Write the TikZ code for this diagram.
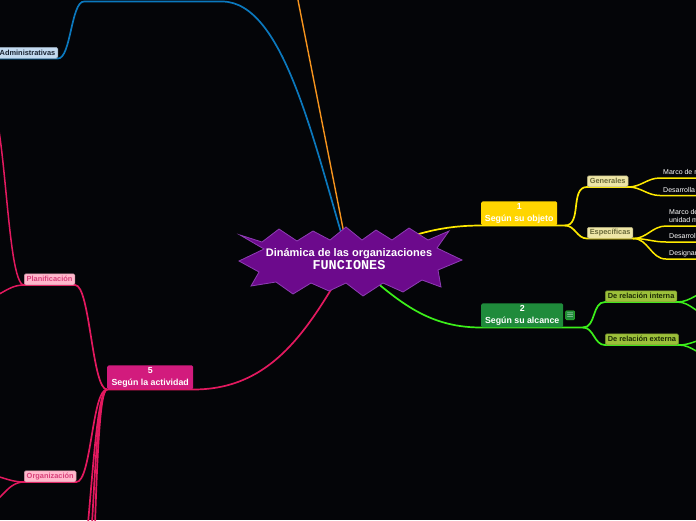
\documentclass[tikz,border=0pt]{standalone}
\usepackage{fontspec}
\setmainfont{Liberation Sans}
\setmonofont{Liberation Mono}
\usetikzlibrary{positioning}
\pgfdeclarelayer{back}
\pgfdeclarelayer{links}
\pgfsetlayers{back,links,main}
\definecolor{bgdark}{HTML}{040508}
\definecolor{starfill}{HTML}{6C0A8C}
\definecolor{starline}{HTML}{8E3DB4}
\definecolor{ylwline}{HTML}{FFEA00}
\definecolor{ylwbox}{HTML}{FFD500}
\definecolor{ylwsub}{HTML}{EEE6A6}
\definecolor{ylwtext}{HTML}{6A6A3A}
\definecolor{grnline}{HTML}{3CF01A}
\definecolor{grnbox}{HTML}{1F8B3B}
\definecolor{grnsub}{HTML}{9CC03A}
\definecolor{grntext}{HTML}{1C2A05}
\definecolor{pnkline}{HTML}{E3195F}
\definecolor{pnkbox}{HTML}{D21B7D}
\definecolor{pnksub}{HTML}{FFB8CC}
\definecolor{pnktext}{HTML}{D8407A}
\definecolor{bluline}{HTML}{0B78BD}
\definecolor{blusub}{HTML}{C3DAF0}
\definecolor{blutext}{HTML}{1A2433}
\definecolor{orgline}{HTML}{F7941D}

\begin{document}
\begin{tikzpicture}[x=1pt, y=-1pt,
  hubtext/.style={align=center, text=white, font=\bfseries\fontsize{11}{13.5}\selectfont, inner sep=0pt},
  topic/.style={anchor=south west, rounded corners=1.5pt, align=center, text=white,
    font=\bfseries\fontsize{8.8}{11.5}\selectfont, inner sep=1pt, minimum height=24pt},
  sub/.style={anchor=south west, rounded corners=1.5pt, draw, line width=0.5pt,
    font=\bfseries\fontsize{7.4}{8}\selectfont, inner xsep=2.5pt, inner ysep=1pt, minimum height=11pt},
  ysub/.style={sub, fill=ylwsub, draw=ylwsub!75!black, text=ylwtext},
  gsub/.style={sub, fill=grnsub, draw=grnsub!75!black, text=grntext},
  psub/.style={sub, fill=pnksub, draw=pnksub!80!black, text=pnktext},
  bsub/.style={sub, fill=blusub, draw=blusub!75!black, text=blutext},
  notebox/.style={fill=grnbox, draw=grnline!60!grnbox, rounded corners=1pt, text=white,
    font=\fontsize{9}{9}\selectfont, inner sep=0.3pt, minimum size=9pt},
  leaf/.style={anchor=south west, align=left, text=white, font=\fontsize{7}{8.3}\selectfont,
    inner xsep=3pt, inner ysep=1.5pt, text depth=1.8pt},
  branch/.style={line width=1.7pt, line cap=round},
  twig/.style={line width=1.5pt, line cap=round}]
\useasboundingbox (0,0) rectangle (696,520);
\begin{pgfonlayer}{back}
  \fill[bgdark] (0,0) rectangle (696,520);
\end{pgfonlayer}

% central star
\filldraw[fill=starfill, draw=starline, line width=0.8pt]
  (239,261) -- (264,249) -- (240,235) -- (262,242) -- (279,229) -- (297,241)
  -- (313,231) -- (330,240) -- (346,227) -- (362,240) -- (376,230) -- (392,240)
  -- (409,228) -- (428,240) -- (449,231) -- (437,248) -- (462,260) -- (438,270)
  -- (441,287) -- (422,280) -- (403,292) -- (383,283) -- (363,296) -- (346,283)
  -- (329,291) -- (311,283) -- (293,294) -- (276,282) -- (251,286) -- (259,272) -- cycle;
\node[hubtext] (hub) at (349,259) {Dinámica de las organizaciones\\{\ttfamily\fontsize{13.5}{14}\selectfont FUNCIONES}};

% main topics
\node[topic, fill=ylwbox, minimum width=76pt] (obj) at (481,225.5) {1\\Según su objeto};
\node[topic, fill=grnbox, minimum width=82pt] (alc) at (481,327.5) {2\\Según su alcance};
\node[notebox, right=2pt of alc] (nota) {$\equiv$};
\node[topic, fill=pnkbox, minimum width=86pt] (act) at (107,389.5) {5\\Según la actividad};

% subtopics
\node[ysub] (gen) at (587,187) {Generales};
\node[ysub] (esp) at (587,238.5) {Específicas};
\node[gsub] (rint) at (605,302) {De relación interna};
\node[gsub] (rext) at (605,345) {De relación externa};
\node[psub] (plan) at (24,285) {Planificación};
\node[psub] (orga) at (24,482) {Organización};
\node[bsub, anchor=south east] (adm) at (58,58.5) {Administrativas};

% leaves (cut by the frame)
\node[leaf] (g1) at (660,178) {Marco de r};
\node[leaf] (g2) at (660,195.5) {Desarrolla};
\node[leaf] (e1) at (666,226) {Marco de\\unidad m};
\node[leaf] (e2) at (666,242) {Desarroll};
\node[leaf] (e3) at (666,259) {Designar};

% junctions and ends outside the frame
\coordinate (yj) at (565,225.5);
\coordinate (gj) at (583,327.5);
\coordinate (gi1) at (712,291);
\coordinate (gi2) at (712,316);
\coordinate (ge1) at (712,338);
\coordinate (ge2) at (712,356);
\coordinate (pd1) at (74,600);
\coordinate (pd2) at (78,640);
\coordinate (pd3) at (82,690);
\coordinate (pu1) at (-12,100);
\coordinate (pu2) at (-20,300);
\coordinate (ou1) at (-18,474);
\coordinate (ou2) at (-18,506);
\coordinate (bt1) at (222,1.5);
\coordinate (bt2) at (84,1.5);
\coordinate (ot) at (296,-10);

\begin{pgfonlayer}{links}
% yellow
\draw[branch, ylwline] (hub.center) to[out=20, in=180] (obj.south west) -- (obj.south east) -- (yj);
\draw[branch, ylwline] (yj) to[out=0, in=180] (gen.south west) -- (gen.south east);
\draw[branch, ylwline] (yj) to[out=0, in=180] (esp.south west) -- (esp.south east);
\draw[twig, ylwline] (gen.south east) to[out=0, in=180] (g1.south west) -- ++(50,0);
\draw[twig, ylwline] (gen.south east) to[out=0, in=180] (g2.south west) -- ++(50,0);
\foreach \e in {e1,e2,e3}
  \draw[twig, ylwline] (esp.south east) to[out=0, in=180] (\e.south west) -- ++(50,0);
% green
\draw[branch, grnline] (hub.center) to[out=-40, in=180] (alc.south west) -- (gj);
\draw[branch, grnline] (gj) to[out=0, in=180] (rint.south west) -- (rint.south east);
\draw[branch, grnline] (gj) to[out=0, in=180] (rext.south west) -- (rext.south east);
\draw[twig, grnline] (rint.south east) to[out=0, in=180] (gi1);
\draw[twig, grnline] (rint.south east) to[out=0, in=180] (gi2);
\draw[twig, grnline] (rext.south east) to[out=0, in=180] (ge1);
\draw[twig, grnline] (rext.south east) to[out=0, in=180] (ge2);
% pink
\draw[branch, pnkline] (hub.center) to[out=-120, in=0] (act.south east) -- (act.south west);
\draw[branch, pnkline] (act.south west) .. controls +(-15,0) and +(15,0) .. (plan.south east) -- (plan.south west);
\draw[branch, pnkline] (act.south west) .. controls +(-15,0) and +(15,0) .. (orga.south east) -- (orga.south west);
\foreach \k in {1,2,3}
  \draw[branch, pnkline] (act.south west) .. controls +(-15,0) and +(15,0) .. (pd\k);
\draw[twig, pnkline] (plan.south west) .. controls +(-18,0) and +(18,0) .. (pu1);
\draw[twig, pnkline] (plan.south west) to[out=180, in=0] (pu2);
\draw[twig, pnkline] (orga.south west) to[out=180, in=0] (ou1);
\draw[twig, pnkline] (orga.south west) to[out=180, in=0] (ou2);
% blue
\draw[branch, bluline] (hub.center) .. controls +(-34,-110) and +(63,0) .. (bt1) -- (bt2)
  .. controls +(-13,0) and +(13,0) .. (adm.south east) -- (adm.south west);
% orange
\draw[line width=1.4pt, orgline] (hub.center) -- (ot);
\end{pgfonlayer}
\end{tikzpicture}
\end{document}
